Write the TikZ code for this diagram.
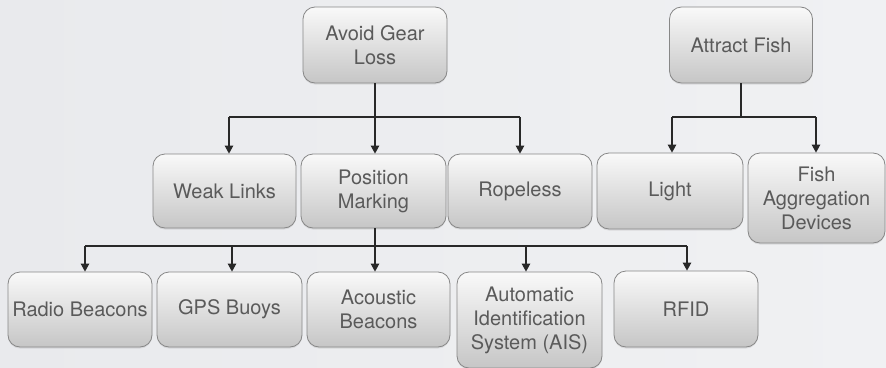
\documentclass[tikz,border=0pt]{standalone}
\usepackage{fontspec}
\setmainfont{TeX Gyre Heros}
\usetikzlibrary{arrows.meta,shadows}

\definecolor{bgleft}{RGB}{233,234,237}
\definecolor{bgright}{RGB}{240,241,243}
\definecolor{boxtop}{RGB}{249,249,249}
\definecolor{boxbot}{RGB}{198,198,198}
\definecolor{boxedge}{RGB}{135,135,135}
\definecolor{txt}{RGB}{90,90,90}
\definecolor{wire}{RGB}{40,40,40}

\begin{document}
\begin{tikzpicture}[x=1pt,y=-1pt,
  card/.style={draw=boxedge, line width=0.8pt, rounded corners=12pt,
    top color=boxtop, bottom color=boxbot, text=txt, align=center,
    font=\fontsize{20}{24}\selectfont, inner sep=0pt,
    drop shadow={opacity=0.18, shadow xshift=0pt, shadow yshift=-1.5pt}},
  wireline/.style={draw=wire, line width=1.1pt},
  arr/.style={wireline, -{Triangle[width=8.5pt,length=8pt]}}
]
% backdrop
\shade[left color=bgleft, right color=bgright] (0,0) rectangle (886,367);
\useasboundingbox (0,0) rectangle (886,367);

% top level
\node[card, minimum width=144pt, minimum height=76pt] (agl) at (375,45) {Avoid Gear\\Loss};
\node[card, minimum width=143pt, minimum height=76pt] (af) at (741,45) {Attract Fish};

% second level
\node[card, minimum width=143pt, minimum height=74pt] (wl) at (224.5,191) {Weak Links};
\node[card, minimum width=145pt, minimum height=74pt] (pm) at (373.5,191) {Position\\Marking};
\node[card, minimum width=144pt, minimum height=74pt] (rp) at (520,191) {Ropeless};
\node[card, minimum width=146pt, minimum height=76pt] (li) at (670,191) {Light};
\node[card, minimum width=137pt, minimum height=90pt] (fad) at (816.5,198) {Fish\\Aggregation\\Devices};

% third level
\node[card, minimum width=144pt, minimum height=75pt] (rb) at (80,309.5) {Radio Beacons};
\node[card, minimum width=145pt, minimum height=75pt] (gps) at (229.5,309.5) {GPS Buoys};
\node[card, minimum width=143pt, minimum height=75pt] (ab) at (378.5,309.5) {Acoustic\\Beacons};
\node[card, minimum width=145pt, minimum height=96pt] (ais) at (529.5,320) {Automatic\\Identification\\System (AIS)};
\node[card, minimum width=144pt, minimum height=76pt] (rfid) at (686,309) {RFID};

% bus junctions
\coordinate (b1) at (375,117);
\coordinate (b2) at (741,117);
\coordinate (b3) at (375,246);

% Avoid Gear Loss branches
\draw[wireline] (agl.south) -- (b1);
\draw[wireline] ([xshift=4.5pt]wl.north |- b1) -- (rp.north |- b1);
\draw[arr] ([xshift=4.5pt]wl.north |- b1) -- ([xshift=4.5pt]wl.north);
\draw[arr] ([xshift=1.5pt]pm.north |- b1) -- ([xshift=1.5pt]pm.north);
\draw[arr] (rp.north |- b1) -- (rp.north);

% Attract Fish branches
\draw[wireline] (af.south) -- (b2);
\draw[wireline] ([xshift=2pt]li.north |- b2) -- ([xshift=-0.5pt]fad.north |- b2);
\draw[arr] ([xshift=2pt]li.north |- b2) -- ([xshift=2pt]li.north);
\draw[arr] ([xshift=-0.5pt]fad.north |- b2) -- ([xshift=-0.5pt]fad.north);

% Position Marking branches
\draw[wireline] ([xshift=1.5pt]pm.south) -- (b3);
\draw[wireline] ([xshift=5pt]rb.north |- b3) -- ([xshift=1pt]rfid.north |- b3);
\draw[arr] ([xshift=5pt]rb.north |- b3) -- ([xshift=5pt]rb.north);
\draw[arr] ([xshift=2.5pt]gps.north |- b3) -- ([xshift=2.5pt]gps.north);
\draw[arr] ([xshift=-3.5pt]ab.north |- b3) -- ([xshift=-3.5pt]ab.north);
\draw[arr] ([xshift=-3.5pt]ais.north |- b3) -- ([xshift=-3.5pt]ais.north);
\draw[arr] ([xshift=1pt]rfid.north |- b3) -- ([xshift=1pt]rfid.north);
\end{tikzpicture}
\end{document}
